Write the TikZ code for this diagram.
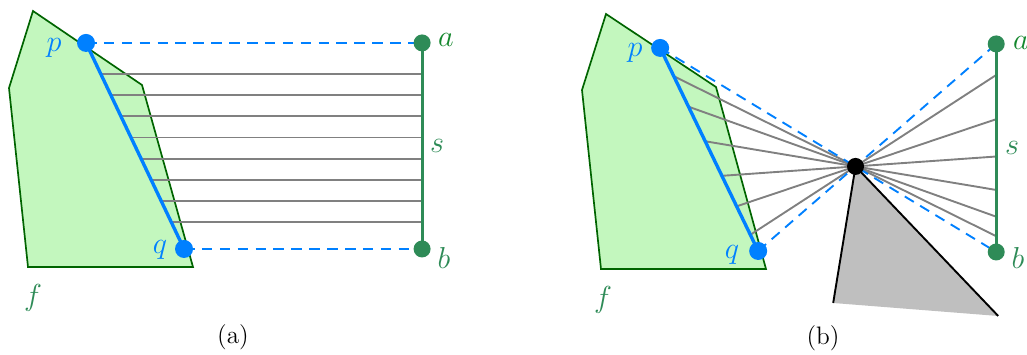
\documentclass[tikz,border=0pt]{standalone}
\usepackage{amsmath,amssymb}
\usepackage{tikz}
\usetikzlibrary{arrows.meta,calc}

\definecolor{facefill}{RGB}{195,247,190}
\definecolor{faceedge}{RGB}{0,100,0}
\definecolor{segcol}{RGB}{46,139,87}
\definecolor{acol}{RGB}{20,135,45}
\definecolor{ptcol}{RGB}{0,128,255}

\tikzset{
  face/.style={draw=faceedge,fill=facefill,line width=0.8pt},
  seg/.style={draw=segcol,line width=1.4pt},
  pqline/.style={draw=ptcol,line width=1.6pt},
  ray/.style={draw=gray,line width=0.9pt},
  proj/.style={draw=ptcol,line width=0.9pt,dash pattern=on 5pt off 3.5pt},
  blbl/.style={text=ptcol,font=\fontsize{13.5}{16}\selectfont},
  glbl/.style={text=segcol,font=\fontsize{13.5}{16}\selectfont},
  subcap/.style={font=\large},
}

\begin{document}
\begin{tikzpicture}[scale=1.67]
  \useasboundingbox (0,0) rectangle (10.27,3.54);
  % (a) parallel projection
  \coordinate (p1) at (0.86,3.11);
  \coordinate (q1) at (1.84,1.05);
  \coordinate (a1) at (4.22,3.11);
  \coordinate (b1) at (4.22,1.05);
  \draw[face] (0.33,3.43) -- (0.09,2.66) -- (0.28,0.87) -- (1.93,0.87) -- (1.42,2.69) -- cycle;
  \foreach \t in {0.15,0.253,0.356,0.459,0.562,0.665,0.768,0.871}
    \draw[ray] ($(p1)!\t!(q1)$) -- ($(a1)!\t!(b1)$);
  \draw[proj] (p1) -- (a1);
  \draw[proj] (q1) -- (b1);
  \draw[pqline] (p1) -- (q1);
  \draw[seg] (a1) -- (b1);
  \fill[ptcol] (p1) circle (0.09) (q1) circle (0.09);
  \fill[segcol] (a1) circle (0.085) (b1) circle (0.085);
  \node[blbl] (lp1) at (0.54,3.06) {$p$};
  \node[blbl] (lq1) at (1.60,1.04) {$q$};
  \node[glbl,text=acol] (la1) at (4.46,3.14) {$a$};
  \node[glbl] (lb1) at (4.44,0.96) {$b$};
  \node[glbl] (ls1) at (4.37,2.08) {$s$};
  \node[glbl] (lf1) at (0.33,0.56) {$f$};
  \node[subcap] (capa) at (2.33,0.17) {(a)};

  % (b) central projection
  \coordinate (p2) at (6.60,3.06);
  \coordinate (q2) at (7.58,1.03);
  \coordinate (a2) at (9.96,3.10);
  \coordinate (b2) at (9.96,1.02);
  \coordinate (c) at (intersection of p2--b2 and q2--a2);
  \coordinate (t1) at (8.33,0.51);
  \coordinate (t2) at (9.98,0.38);
  \draw[face] (6.06,3.40) -- (5.82,2.64) -- (6.01,0.85) -- (7.66,0.85) -- (7.16,2.67) -- cycle;
  \fill[gray!50] (c) -- (t1) -- (t2) -- cycle;
  \draw[line width=0.9pt] (t1) -- (c) -- (t2);
  \foreach \t in {0.14,0.29,0.46,0.63,0.78,0.92}{
    \coordinate (r) at ($(p2)!\t!(q2)$);
    \draw[ray] (r) -- (intersection of r--c and a2--b2);
  }
  \draw[proj] (p2) -- (b2);
  \draw[proj] (q2) -- (a2);
  \draw[pqline] (p2) -- (q2);
  \draw[seg] (a2) -- (b2);
  \fill[ptcol] (p2) circle (0.09) (q2) circle (0.09);
  \fill[segcol] (a2) circle (0.085) (b2) circle (0.085);
  \fill (c) circle (0.085);
  \node[blbl] (lp2) at (6.35,3.01) {$p$};
  \node[blbl] (lq2) at (7.32,0.99) {$q$};
  \node[glbl,text=acol] (la2) at (10.21,3.11) {$a$};
  \node[glbl] (lb2) at (10.18,0.96) {$b$};
  \node[glbl] (ls2) at (10.12,2.06) {$s$};
  \node[glbl] (lf2) at (6.03,0.54) {$f$};
  \node[subcap] (capb) at (8.23,0.16) {(b)};
\end{tikzpicture}
\end{document}
